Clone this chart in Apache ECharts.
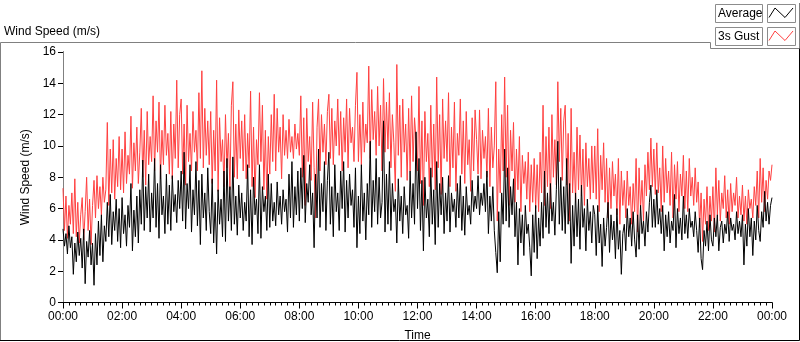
<!DOCTYPE html>
<html>
<head>
<meta charset="utf-8">
<script src="https://cdn.jsdelivr.net/npm/echarts@6/dist/echarts.min.js"></script>
<style>
html, body { margin: 0; padding: 0; background: #fff; }
#chart { width: 800px; height: 342px; }
</style>
</head>
<body>
<div id="chart"></div>
<script>
// one reading every 3 minutes, 00:00 .. 24:00 (20 per row = 1 hour)
var stepMinutes = 3;

var averageSpeed = [
    4.7, 3.6, 4.4, 3.1, 4.9, 3.5, 4.2, 1.8, 3.8, 2.6, 4.5, 3.0, 4.1, 2.2, 4.7, 1.2, 3.9, 2.9, 4.6, 2.4,
    3.8, 1.1, 4.4, 2.4, 5.2, 3.0, 5.6, 2.6, 4.9, 3.9, 6.4, 4.2, 6.9, 3.7, 5.8, 4.6, 6.6, 3.9, 6.0, 3.5,
    6.7, 4.4, 5.6, 3.6, 6.2, 4.8, 7.6, 3.3, 5.9, 4.2, 6.8, 3.8, 7.2, 5.0, 9.1, 4.6, 7.4, 5.4, 8.2, 4.5,
    7.0, 5.4, 9.2, 4.8, 7.6, 4.1, 8.8, 5.6, 6.8, 4.4, 8.2, 5.0, 7.5, 4.6, 8.1, 5.8, 6.9, 5.1, 7.8, 6.0,
    8.4, 5.2, 9.6, 4.7, 7.6, 6.0, 8.8, 4.5, 7.2, 5.6, 9.0, 4.9, 7.8, 3.7, 8.2, 5.4, 7.0, 4.6, 8.6, 5.8,
    4.4, 7.9, 3.8, 6.4, 3.1, 7.2, 5.0, 6.6, 4.2, 8.4, 3.9, 9.2, 5.2, 7.4, 4.6, 9.3, 5.0, 6.8, 4.3, 7.5,
    5.4, 7.0, 4.6, 6.4, 5.2, 8.8, 4.2, 7.2, 3.7, 8.0, 5.6, 6.6, 4.4, 8.8, 4.1, 7.4, 5.8, 6.8, 4.6, 8.2,
    4.8, 7.6, 5.2, 6.4, 4.9, 7.7, 5.6, 6.8, 5.0, 7.2, 5.8, 6.6, 4.5, 8.2, 5.4, 9.0, 4.8, 7.4, 5.6, 8.4,
    5.2, 8.6, 6.0, 9.4, 5.1, 7.6, 6.4, 8.8, 5.6, 7.0, 3.5, 8.2, 5.4, 9.8, 4.8, 7.6, 5.8, 9.0, 4.6, 7.8,
    9.6, 5.0, 7.4, 4.2, 8.8, 5.8, 7.0, 4.6, 8.4, 6.0, 9.0, 4.5, 7.8, 5.4, 8.2, 6.2, 7.2, 4.8, 8.6, 3.5,
    6.8, 4.4, 8.8, 5.2, 7.0, 4.0, 7.6, 5.6, 10.3, 4.8, 7.8, 5.8, 9.2, 5.0, 8.0, 5.4, 6.4, 11.6, 4.5, 8.2,
    5.0, 9.0, 4.6, 7.6, 5.8, 6.6, 3.8, 7.9, 5.2, 6.8, 4.4, 7.4, 5.6, 6.2, 4.1, 8.4, 5.4, 7.6, 5.0, 10.9,
    6.0, 9.2, 4.6, 7.8, 3.3, 8.0, 5.4, 6.6, 4.2, 8.6, 5.0, 7.2, 3.7, 9.0, 4.8, 7.6, 5.6, 8.0, 4.4, 7.0,
    5.2, 8.1, 4.5, 7.0, 5.8, 6.6, 4.8, 7.6, 5.4, 8.1, 4.6, 6.8, 4.3, 7.4, 5.6, 6.2, 5.0, 7.8, 5.8, 6.8,
    6.0, 8.1, 5.6, 7.0, 6.2, 7.6, 5.8, 8.4, 4.4, 6.8, 5.2, 7.4, 4.6, 3.2, 1.9, 5.8, 2.6, 7.0, 5.0, 9.8,
    5.2, 8.6, 4.8, 7.4, 5.6, 7.9, 4.2, 6.4, 2.4, 6.0, 3.8, 5.6, 3.0, 6.2, 4.4, 5.0, 3.5, 1.7, 5.6, 3.2,
    6.2, 2.8, 5.4, 3.6, 6.4, 4.1, 8.4, 4.8, 7.0, 4.4, 7.6, 5.2, 6.4, 4.3, 7.2, 10.3, 5.0, 8.0, 4.6, 7.4,
    4.4, 9.2, 5.0, 7.6, 2.5, 6.2, 3.6, 7.0, 4.2, 6.6, 3.4, 7.5, 4.8, 6.0, 3.3, 6.6, 4.6, 5.8, 3.8, 6.2,
    5.6, 3.0, 6.2, 3.8, 5.0, 2.3, 5.4, 3.6, 4.8, 6.4, 3.2, 5.6, 4.0, 5.2, 2.8, 6.0, 3.4, 4.6, 1.8, 4.4,
    5.0, 3.3, 6.0, 4.2, 5.4, 3.6, 5.8, 4.0, 2.9, 5.6, 3.4, 6.2, 4.4, 5.2, 3.6, 5.8, 4.5, 6.4, 7.5, 4.8,
    6.6, 4.8, 7.2, 5.0, 6.0, 4.4, 6.2, 3.3, 5.6, 4.2, 5.8, 3.8, 5.2, 4.6, 6.9, 3.5, 6.0, 4.4, 5.4, 4.0,
    6.8, 4.4, 5.6, 4.1, 6.0, 4.8, 5.2, 4.2, 5.8, 4.6, 3.2, 5.4, 2.8, 2.1, 4.6, 3.6, 5.2, 3.3, 5.6, 4.0,
    3.6, 5.4, 4.2, 5.6, 3.3, 4.8, 5.2, 3.8, 5.0, 4.4, 5.8, 3.9, 5.4, 4.6, 5.0, 4.0, 5.8, 4.4, 5.2, 4.2,
    5.6, 2.4, 5.0, 3.6, 6.0, 4.2, 5.4, 3.0, 5.2, 4.0, 6.2, 4.6, 3.9, 5.8, 4.8, 7.1, 5.2, 6.4, 5.0, 6.2,
    6.7
];

var gustSpeed = [
    7.3, 4.6, 6.8, 4.1, 6.2, 5.0, 7.0, 4.4, 7.9, 4.2, 6.4, 3.8, 5.6, 6.7, 4.0, 5.8, 8.0, 4.6, 6.6, 3.7,
    6.2, 7.8, 5.4, 8.1, 6.0, 7.4, 5.6, 8.0, 6.4, 7.2, 11.5, 6.2, 9.8, 7.0, 10.4, 6.6, 9.2, 7.4, 10.6, 7.2,
    9.8, 7.0, 10.9, 7.6, 9.4, 8.2, 11.9, 7.3, 10.2, 8.4, 11.2, 7.6, 9.6, 12.4, 8.0, 11.0, 7.5, 12.2, 8.8, 10.6,
    9.0, 13.2, 8.4, 11.6, 9.6, 12.8, 7.9, 11.0, 8.8, 12.6, 9.4, 10.8, 8.2, 12.2, 7.9, 11.4, 9.2, 14.2, 8.6, 12.0,
    13.0, 8.2, 11.4, 7.5, 12.6, 9.0, 10.8, 8.4, 12.2, 9.6, 11.0, 8.4, 13.4, 9.2, 14.8, 8.6, 12.4, 9.4, 11.6, 8.8,
    12.2, 7.6, 11.0, 8.4, 14.2, 7.1, 11.8, 9.0, 10.4, 7.4, 12.0, 8.6, 10.8, 7.2, 12.6, 14.1, 8.0, 11.4, 7.9, 12.3,
    9.2, 11.6, 8.4, 12.0, 7.9, 10.8, 8.6, 13.5, 7.4, 11.2, 6.7, 10.4, 8.8, 13.4, 9.0, 12.6, 7.2, 11.0, 6.6, 10.6,
    8.2, 12.0, 9.0, 13.3, 8.4, 12.4, 9.6, 11.2, 7.9, 12.0, 9.4, 11.0, 9.2, 11.7, 9.6, 10.6, 9.2, 11.4, 9.8, 10.8,
    9.4, 13.2, 8.0, 11.8, 6.2, 12.4, 9.0, 10.6, 7.8, 12.8, 8.6, 5.4, 11.2, 13.0, 8.4, 12.0, 9.6, 11.4, 8.8, 12.2,
    13.3, 9.2, 12.4, 8.8, 11.6, 10.0, 13.0, 9.4, 12.2, 8.4, 11.8, 9.6, 13.0, 8.6, 12.4, 10.2, 11.2, 9.0, 12.6, 14.7,
    9.0, 12.0, 8.8, 12.8, 9.6, 11.4, 10.2, 15.1, 9.2, 13.6, 10.4, 12.2, 9.4, 13.8, 10.0, 12.6, 8.4, 14.3, 9.6, 12.8,
    9.8, 13.4, 8.6, 12.0, 10.2, 7.1, 15.2, 9.4, 12.6, 8.0, 13.0, 9.6, 11.4, 7.8, 12.4, 8.4, 13.2, 9.0, 11.8, 10.4,
    8.4, 13.8, 7.6, 11.6, 6.2, 12.2, 9.0, 10.8, 7.4, 12.6, 8.0, 11.4, 7.2, 14.4, 8.6, 12.0, 6.9, 13.0, 9.2, 11.6,
    9.0, 13.4, 7.4, 11.2, 8.6, 12.8, 7.1, 10.8, 9.4, 13.0, 8.2, 11.6, 7.6, 12.2, 8.8, 10.4, 7.1, 11.8, 8.4, 12.3,
    10.4, 8.2, 12.3, 7.9, 11.0, 9.2, 10.6, 8.0, 12.4, 7.4, 11.2, 8.6, 10.0, 14.1, 5.2, 9.8, 7.0, 12.0, 8.4, 14.4,
    8.0, 12.6, 6.2, 11.0, 8.4, 11.5, 6.4, 9.8, 7.2, 10.6, 5.8, 9.4, 7.6, 9.0, 6.6, 9.6, 5.8, 8.8, 6.4, 9.2,
    6.0, 8.8, 5.8, 9.6, 7.0, 12.6, 6.2, 10.6, 7.4, 11.2, 6.0, 12.0, 8.0, 10.4, 7.5, 14.1, 9.0, 12.4, 7.8, 11.6,
    12.6, 7.5, 10.8, 5.2, 12.4, 7.0, 9.6, 6.4, 11.2, 7.2, 10.7, 6.8, 9.8, 6.2, 10.2, 7.4, 9.2, 6.6, 10.0, 7.0,
    10.0, 6.6, 11.1, 5.8, 9.4, 7.2, 10.2, 6.4, 9.2, 5.4, 8.6, 6.0, 9.0, 6.8, 8.2, 5.6, 9.2, 5.0, 8.4, 6.2,
    7.8, 5.4, 8.4, 6.2, 7.4, 5.0, 7.6, 5.8, 9.2, 4.5, 8.6, 6.0, 7.8, 5.2, 8.8, 6.8, 9.6, 7.2, 10.5, 7.4,
    9.8, 6.9, 10.2, 7.0, 8.6, 5.8, 10.0, 6.4, 9.2, 7.0, 8.4, 6.2, 9.6, 5.4, 8.8, 6.6, 9.0, 5.8, 8.2, 6.8,
    9.4, 6.0, 8.4, 5.8, 9.2, 6.8, 8.0, 6.2, 8.6, 6.4, 7.7, 4.8, 7.0, 3.9, 6.6, 5.0, 7.4, 4.6, 6.8, 5.2,
    7.4, 4.5, 8.6, 5.6, 7.8, 5.2, 7.0, 6.0, 8.1, 5.4, 7.2, 5.0, 7.6, 5.8, 7.0, 6.2, 8.0, 5.4, 6.8, 5.6,
    7.5, 5.2, 6.8, 5.0, 7.2, 6.0, 6.6, 5.4, 7.4, 6.2, 8.4, 5.4, 9.2, 6.4, 8.6, 5.8, 7.8, 6.6, 8.4, 7.8,
    8.8
];

var seriesNames = ['Average', '3s Gust'];
var seriesColors = ['#000000', '#ff4040'];

var font = "'Liberation Sans', Arial, sans-serif";

function toPairs(values) {
    var out = [];
    for (var i = 0; i < values.length; i++) {
        out.push([i * stepMinutes, values[i]]);
    }
    return out;
}

function timeLabel(minutes) {
    var h = Math.floor(minutes / 60) % 24;
    var m = minutes % 60;
    return (h < 10 ? '0' : '') + h + ':' + (m < 10 ? '0' : '') + m;
}

var myChart = echarts.init(document.getElementById('chart'));

// legend: text box + line sample box, LabVIEW style
var legendItems = [];
for (var k = 0; k < seriesNames.length; k++) {
    var boxTop = 4.5 + k * 23;
    legendItems.push(
        { type: 'rect', shape: { x: 715.5, y: boxTop, width: 47, height: 18 },
          style: { fill: '#fff', stroke: '#8c8c8c', lineWidth: 1 } },
        { type: 'text', x: 718, y: boxTop + 9.5,
          style: { text: seriesNames[k], font: '12px ' + font, fill: '#000', verticalAlign: 'middle' } },
        { type: 'rect', shape: { x: 767.5, y: boxTop, width: 28, height: 18 },
          style: { fill: '#fff', stroke: '#8c8c8c', lineWidth: 1 } },
        { type: 'polyline', shape: { points: [[769, boxTop + 13], [775, boxTop + 3.5], [785, boxTop + 13], [793, boxTop + 3.5]] },
          style: { stroke: seriesColors[k], lineWidth: 1, fill: null } }
    );
}

var frame = [
    { type: 'polyline', shape: { points: [[0.5, 341], [0.5, 42.5], [710.5, 42.5], [710.5, 48.5], [799.5, 48.5]] },
      style: { stroke: '#808080', lineWidth: 1, fill: null } },
    { type: 'line', shape: { x1: 799.5, y1: 3, x2: 799.5, y2: 48.5 },
      style: { stroke: '#808080', lineWidth: 1 } },
    { type: 'polyline', shape: { points: [[0, 340.5], [799.5, 340.5], [799.5, 48.5]] },
      style: { stroke: '#000', lineWidth: 1, fill: null } }
];

var option = {
    animation: false,
    backgroundColor: '#fff',
    title: {
        text: 'Wind Speed (m/s)',
        left: 4,
        top: 26,
        padding: 0,
        textStyle: { fontFamily: font, fontSize: 12, fontWeight: 'normal', color: '#000' }
    },
    grid: { left: 63, right: 28, top: 52, bottom: 39.5, containLabel: false, outerBoundsMode: 'none' },
    xAxis: [
        {
            type: 'value',
            position: 'bottom',
            min: 0,
            max: 1440,
            interval: 120,
            name: 'Time',
            nameLocation: 'middle',
            nameGap: 27,
            nameTextStyle: { fontFamily: font, fontSize: 12, color: '#000' },
            axisLine: { show: true, lineStyle: { color: '#808080' } },
            axisTick: { show: true, length: 6, lineStyle: { color: '#000' } },
            minorTick: { show: true, splitNumber: 10, length: 3, lineStyle: { color: '#000' } },
            axisLabel: {
                fontFamily: font, fontSize: 12, color: '#000', margin: 8,
                formatter: function (v) { return timeLabel(v); }
            },
            splitLine: { show: false }
        },
        {
            type: 'value',
            position: 'top',
            min: 0,
            max: 1440,
            axisLine: { show: true, lineStyle: { color: '#000' } },
            axisTick: { show: false },
            axisLabel: { show: false },
            splitLine: { show: false }
        }
    ],
    yAxis: [
        {
            type: 'value',
            position: 'left',
            min: 0,
            max: 16,
            interval: 2,
            name: 'Wind Speed (m/s)',
            nameLocation: 'middle',
            nameGap: 20,
            nameRotate: 90,
            nameTextStyle: { fontFamily: font, fontSize: 12, color: '#000' },
            axisLine: { show: true, lineStyle: { color: '#000' } },
            axisTick: { show: true, length: 5, lineStyle: { color: '#000' } },
            axisLabel: { fontFamily: font, fontSize: 12, color: '#000', margin: 7 },
            splitLine: { show: false }
        },
        {
            type: 'value',
            position: 'right',
            min: 0,
            max: 16,
            axisLine: { show: true, lineStyle: { color: '#808080' } },
            axisTick: { show: false },
            axisLabel: { show: false },
            splitLine: { show: false }
        }
    ],
    series: [
        {
            name: seriesNames[1],
            type: 'line',
            data: toPairs(gustSpeed),
            symbol: 'none',
            lineStyle: { color: seriesColors[1], width: 1 },
            itemStyle: { color: seriesColors[1] }
        },
        {
            name: seriesNames[0],
            type: 'line',
            data: toPairs(averageSpeed),
            symbol: 'none',
            lineStyle: { color: seriesColors[0], width: 1 },
            itemStyle: { color: seriesColors[0] }
        }
    ],
    graphic: frame.concat(legendItems)
};

myChart.setOption(option);
</script>
</body>
</html>
